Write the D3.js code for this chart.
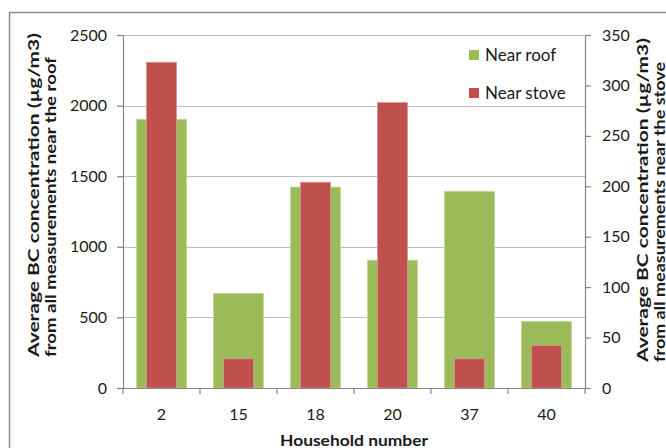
<!DOCTYPE html>
<html>
<head>
<meta charset="utf-8">
<script src="https://cdn.jsdelivr.net/npm/d3@7"></script>
<style>
  html, body { margin: 0; padding: 0; background: #ffffff; }
  svg { display: block; }
  text { font-family: Lato, "Open Sans", "DejaVu Sans", sans-serif; fill: #1a1a1a; }
</style>
</head>
<body>
<svg id="chart" width="666" height="448"></svg>
<script>
// Household numbers and average black-carbon concentrations (µg/m3)
const households = ["2", "15", "18", "20", "37", "40"];
const nearRoof = [1903, 670, 1423, 905, 1393, 472];   // left axis
const nearStove = [323, 29, 204, 283, 29, 42];         // right axis
const leftTicks = [0, 500, 1000, 1500, 2000, 2500];
const rightTicks = [0, 50, 100, 150, 200, 250, 300, 350];
const seriesNames = ["Near roof", "Near stove"];
const colors = ["#9bbb59", "#c0504d"];
const edgeColors = ["#c3d69b", "#d99694"];

const svg = d3.select("#chart");
const plot = { left: 123, right: 585, top: 35, bottom: 388 };

const x = d3.scaleBand().domain(households).range([plot.left, plot.right]).paddingInner(0).paddingOuter(0);
const yL = d3.scaleLinear().domain([0, 2500]).range([plot.bottom, plot.top]);
const yR = d3.scaleLinear().domain([0, 350]).range([plot.bottom, plot.top]);

// outer chart frame
svg.append("path")
  .attr("d", "M9.5,448 L9.5,12.5 L666,12.5")
  .attr("fill", "none").attr("stroke", "#8c8c8c").attr("stroke-width", 1.5);

// horizontal gridlines
svg.append("g").selectAll("line").data(leftTicks.filter(d => d > 0)).join("line")
  .attr("x1", plot.left).attr("x2", plot.right)
  .attr("y1", d => Math.round(yL(d)) + 0.5).attr("y2", d => Math.round(yL(d)) + 0.5)
  .attr("stroke", "#bdbdbd").attr("stroke-width", 1.2);

// bars: near roof (wide) behind, near stove (narrow) in front
const bw = x.bandwidth();
svg.append("g").selectAll("rect").data(households).join("rect")
  .attr("x", d => x(d) + bw * 0.5 - bw * 0.325)
  .attr("width", bw * 0.65)
  .attr("y", (d, i) => yL(nearRoof[i]))
  .attr("height", (d, i) => yL(0) - yL(nearRoof[i]))
  .attr("fill", colors[0]).attr("stroke", edgeColors[0]).attr("stroke-width", 0.8);

svg.append("g").selectAll("rect").data(households).join("rect")
  .attr("x", d => x(d) + bw * 0.5 - bw * 0.195)
  .attr("width", bw * 0.39)
  .attr("y", (d, i) => yR(nearStove[i]))
  .attr("height", (d, i) => yR(0) - yR(nearStove[i]))
  .attr("fill", colors[1]).attr("stroke", edgeColors[1]).attr("stroke-width", 0.8);

// axes
function styleAxis(g) {
  g.selectAll(".domain").attr("stroke", "#868686").attr("stroke-width", 1.2);
  g.selectAll(".tick line").attr("stroke", "#868686").attr("stroke-width", 1.2);
  g.selectAll(".tick text").attr("font-size", 16).attr("fill", "#1a1a1a")
    .attr("font-family", "Lato, 'Open Sans', sans-serif");
}

svg.append("g").attr("transform", `translate(${plot.left},0)`)
  .call(d3.axisLeft(yL).tickValues(leftTicks).tickSize(6).tickSizeOuter(0).tickPadding(10).tickFormat(d3.format("d")))
  .call(styleAxis);

svg.append("g").attr("transform", `translate(${plot.right},0)`)
  .call(d3.axisRight(yR).tickValues(rightTicks).tickSize(6).tickSizeOuter(0).tickPadding(11).tickFormat(d3.format("d")))
  .call(styleAxis);

// category axis: ticks sit on band boundaries
const xAxis = svg.append("g").attr("transform", `translate(0,${plot.bottom})`)
  .call(d3.axisBottom(x).tickSize(0).tickPadding(21))
  .call(styleAxis);
xAxis.selectAll(".tick text").attr("dy", "0.71em");
const bounds = households.map(d => x(d)).concat([plot.right]);
xAxis.selectAll(".bnd").data(bounds).join("line").attr("class", "bnd")
  .attr("x1", d => d).attr("x2", d => d).attr("y1", 0).attr("y2", 6)
  .attr("stroke", "#868686").attr("stroke-width", 1.2);

// axis titles
svg.append("text").attr("x", 354).attr("y", 446)
  .attr("text-anchor", "middle").attr("font-size", 16).attr("font-weight", "bold")
  .attr("textLength", 148).attr("lengthAdjust", "spacingAndGlyphs")
  .text("Household number");

const titleLine1 = "Average BC concentration (µg/m3)";
function yTitle(bx, by, line2) {
  const g = svg.append("g");
  g.append("text").attr("transform", `translate(${bx},${by}) rotate(-90)`)
    .attr("font-size", 16).attr("font-weight", "bold")
    .attr("textLength", 324).attr("lengthAdjust", "spacingAndGlyphs")
    .text(titleLine1);
  g.append("text").attr("transform", `translate(${bx + 17},${by}) rotate(-90)`)
    .attr("font-size", 16).attr("font-weight", "bold")
    .attr("textLength", 300).attr("lengthAdjust", "spacingAndGlyphs")
    .text(line2);
}
yTitle(39, 357, "from all measurements near the roof");
yTitle(648, 362, "from all measurements near the stove");

// legend
const legend = svg.append("g").selectAll("g").data(seriesNames).join("g")
  .attr("transform", (d, i) => `translate(469,${50 + i * 38})`);
legend.append("rect").attr("width", 10).attr("height", 10)
  .attr("fill", (d, i) => colors[i]);
legend.append("text").attr("x", 16).attr("y", 11).attr("font-size", 17).text(d => d);
</script>
</body>
</html>
